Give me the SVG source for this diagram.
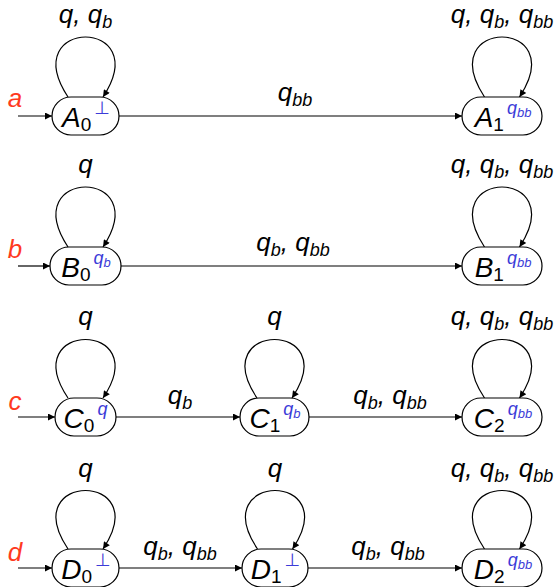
<svg xmlns="http://www.w3.org/2000/svg" width="559" height="587" viewBox="0 0 559 587">
<style>
text{font-family:"Liberation Sans","DejaVu Sans",sans-serif;fill:#000}
.m{font-style:italic;font-size:26px}
.nl{font-style:italic;font-size:28px}
.sb{font-size:19px}
.sbi{font-size:18px;font-style:italic}
.sp{fill:#3c3cd8;font-size:18px;font-style:italic}
.spb{fill:#3c3cd8;font-size:13px;font-style:italic}
.bot{fill:#3c3cd8;font-size:18px;font-family:"DejaVu Sans",sans-serif;font-style:normal}
.lb{font-style:italic;font-size:26px;fill:#ff3a1e}
.nd{fill:#fff;stroke:#000;stroke-width:1.2}
.e{fill:none;stroke:#000;stroke-width:1.2;marker-end:url(#ah)}
</style>
<defs>
<marker id="ah" viewBox="0 0 10 10" refX="10" refY="5" markerWidth="9" markerHeight="7" markerUnits="userSpaceOnUse" orient="auto"><path d="M0,0 L10,5 L0,10 z" fill="#000"/></marker>
</defs>
<g id="connectors">
<path class="e" d="M18,116 H52"/>
<path class="e" d="M68,97 C15.5,17 155.5,17 103,97"/>
<path class="e" d="M484.5,97 C432,17 572,17 519.5,97"/>
<path class="e" d="M119,116 H462"/>
<path class="e" d="M18,266 H50"/>
<path class="e" d="M68,247 C15.5,167 155.5,167 103,247"/>
<path class="e" d="M484.5,247 C432,167 572,167 519.5,247"/>
<path class="e" d="M121,266 H462"/>
<path class="e" d="M18,417 H55"/>
<path class="e" d="M68,398 C15.5,320 155.5,320 103,398"/>
<path class="e" d="M257,398 C204.5,320 344.5,320 292,398"/>
<path class="e" d="M484.5,398 C432,320 572,320 519.5,398"/>
<path class="e" d="M116,417 H240"/>
<path class="e" d="M309,417 H462"/>
<path class="e" d="M18,568 H52"/>
<path class="e" d="M68,549 C15.5,471 155.5,471 103,549"/>
<path class="e" d="M257.5,549 C205,471 345,471 292.5,549"/>
<path class="e" d="M484.5,549 C432,471 572,471 519.5,549"/>
<path class="e" d="M119,568 H242"/>
<path class="e" d="M308,568 H462"/>
<text class="lb" x="15" y="107" text-anchor="middle">a</text>
<text class="lb" x="15" y="258" text-anchor="middle">b</text>
<text class="lb" x="15" y="410" text-anchor="middle">c</text>
<text class="lb" x="15" y="561" text-anchor="middle">d</text>
<text class="m" x="85.5" y="23" text-anchor="middle">q, q<tspan class="sbi" dy="5">b</tspan></text>
<text class="m" x="502" y="23" text-anchor="middle">q, q<tspan class="sbi" dy="5">b</tspan><tspan dy="-5">, q</tspan><tspan class="sbi" dy="5">bb</tspan></text>
<text class="m" x="295" y="101" text-anchor="middle">q<tspan class="sbi" dy="5">bb</tspan></text>
<text class="m" x="85.5" y="173" text-anchor="middle">q</text>
<text class="m" x="502" y="173" text-anchor="middle">q, q<tspan class="sbi" dy="5">b</tspan><tspan dy="-5">, q</tspan><tspan class="sbi" dy="5">bb</tspan></text>
<text class="m" x="293" y="251" text-anchor="middle">q<tspan class="sbi" dy="5">b</tspan><tspan dy="-5">, q</tspan><tspan class="sbi" dy="5">bb</tspan></text>
<text class="m" x="85.5" y="325" text-anchor="middle">q</text>
<text class="m" x="274.5" y="325" text-anchor="middle">q</text>
<text class="m" x="502" y="325" text-anchor="middle">q, q<tspan class="sbi" dy="5">b</tspan><tspan dy="-5">, q</tspan><tspan class="sbi" dy="5">bb</tspan></text>
<text class="m" x="180" y="404" text-anchor="middle">q<tspan class="sbi" dy="5">b</tspan></text>
<text class="m" x="390" y="404" text-anchor="middle">q<tspan class="sbi" dy="5">b</tspan><tspan dy="-5">, q</tspan><tspan class="sbi" dy="5">bb</tspan></text>
<text class="m" x="85.5" y="477" text-anchor="middle">q</text>
<text class="m" x="275" y="477" text-anchor="middle">q</text>
<text class="m" x="502" y="477" text-anchor="middle">q, q<tspan class="sbi" dy="5">b</tspan><tspan dy="-5">, q</tspan><tspan class="sbi" dy="5">bb</tspan></text>
<text class="m" x="180" y="555" text-anchor="middle">q<tspan class="sbi" dy="5">b</tspan><tspan dy="-5">, q</tspan><tspan class="sbi" dy="5">bb</tspan></text>
<text class="m" x="388" y="555" text-anchor="middle">q<tspan class="sbi" dy="5">b</tspan><tspan dy="-5">, q</tspan><tspan class="sbi" dy="5">bb</tspan></text>
</g>
<g id="A0"><rect class="nd" x="52" y="97" width="67" height="38" rx="19"/>
<text x="86" y="127" text-anchor="middle"><tspan class="nl">A</tspan><tspan class="sb" dy="4">0</tspan><tspan class="bot" dx="3" dy="-17">⊥</tspan></text></g>
<g id="A1"><rect class="nd" x="462" y="97" width="80" height="38" rx="19"/>
<text x="503" y="127" text-anchor="middle"><tspan class="nl">A</tspan><tspan class="sb" dy="4">1</tspan><tspan class="sp" dx="3" dy="-17">q</tspan><tspan class="spb" dy="3">bb</tspan></text></g>
<g id="B0"><rect class="nd" x="50" y="247" width="71" height="38" rx="19"/>
<text x="86" y="277" text-anchor="middle"><tspan class="nl">B</tspan><tspan class="sb" dy="4">0</tspan><tspan class="sp" dx="3" dy="-17">q</tspan><tspan class="spb" dy="3">b</tspan></text></g>
<g id="B1"><rect class="nd" x="462" y="247" width="80" height="38" rx="19"/>
<text x="503" y="277" text-anchor="middle"><tspan class="nl">B</tspan><tspan class="sb" dy="4">1</tspan><tspan class="sp" dx="3" dy="-17">q</tspan><tspan class="spb" dy="3">bb</tspan></text></g>
<g id="C0"><rect class="nd" x="55" y="398" width="61" height="38" rx="19"/>
<text x="85.5" y="428" text-anchor="middle"><tspan class="nl">C</tspan><tspan class="sb" dy="4">0</tspan><tspan class="sp" dx="3" dy="-17">q</tspan></text></g>
<g id="C1"><rect class="nd" x="240" y="398" width="69" height="38" rx="19"/>
<text x="275" y="428" text-anchor="middle"><tspan class="nl">C</tspan><tspan class="sb" dy="4">1</tspan><tspan class="sp" dx="3" dy="-17">q</tspan><tspan class="spb" dy="3">b</tspan></text></g>
<g id="C2"><rect class="nd" x="462" y="398" width="80" height="38" rx="19"/>
<text x="503" y="428" text-anchor="middle"><tspan class="nl">C</tspan><tspan class="sb" dy="4">2</tspan><tspan class="sp" dx="3" dy="-17">q</tspan><tspan class="spb" dy="3">bb</tspan></text></g>
<g id="D0"><rect class="nd" x="52" y="549" width="67" height="38" rx="19"/>
<text x="86" y="579" text-anchor="middle"><tspan class="nl">D</tspan><tspan class="sb" dy="4">0</tspan><tspan class="bot" dx="3" dy="-17">⊥</tspan></text></g>
<g id="D1"><rect class="nd" x="242" y="549" width="66" height="38" rx="19"/>
<text x="275.5" y="579" text-anchor="middle"><tspan class="nl">D</tspan><tspan class="sb" dy="4">1</tspan><tspan class="bot" dx="3" dy="-17">⊥</tspan></text></g>
<g id="D2"><rect class="nd" x="462" y="549" width="80" height="38" rx="19"/>
<text x="503" y="579" text-anchor="middle"><tspan class="nl">D</tspan><tspan class="sb" dy="4">2</tspan><tspan class="sp" dx="3" dy="-17">q</tspan><tspan class="spb" dy="3">bb</tspan></text></g>
</svg>
